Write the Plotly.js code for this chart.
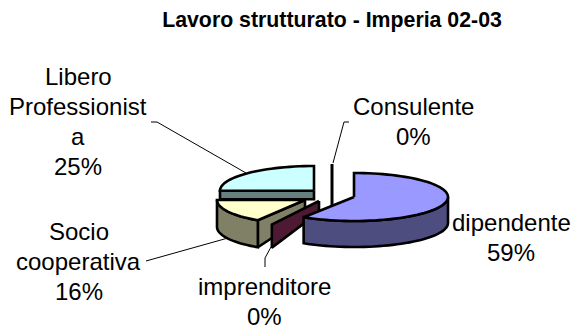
<!DOCTYPE html>
<html>
<head>
<meta charset="utf-8">
<script src="https://cdn.plot.ly/plotly-3.0.1.min.js"></script>
<style>html,body{margin:0;padding:0;background:#fff}#chart{width:574px;height:326px}</style>
</head>
<body>
<div id="chart"></div>
<script>
// Data, clockwise from 12 o'clock
var categories = ['dipendente', 'imprenditore', 'Socio cooperativa', 'Libero Professionista', 'Consulente'];
var values = [59, 0, 16, 25, 0];
var topColors = ['#9999FF', '#4D1933', '#FFFFCC', '#CCFFFF', '#000000'];
var sideColors = ['#4D4D80', '#4D1933', '#808066', '#668080', '#000000'];

var total = values.reduce(function (s, v) { return s + v; }, 0);
var starts = [], acc = 0;
values.forEach(function (v) { starts.push(acc / total * 360); acc += v; });
function ends(i) { return starts[i] + values[i] / total * 360; }

// Exploded 3-D projection of each slice (centre, radii, depth in axis units)
var geo = [
  {cx: 354, cy: 197, a: 94, b: 24, d: 26},
  {cx: 319, cy: 201, a: 88, b: 28, d: 23, dc: 11},
  {cx: 305, cy: 200, a: 88, b: 24, d: 27},
  {cx: 314, cy: 190.7, a: 94, b: 24.7, d: 8.5},
  {cx: 332, cy: 188, a: 94, b: 24, d: 18}
];
function pt(g, deg, drop) {
  var r = deg * Math.PI / 180;
  return [g.cx + g.a * Math.sin(r), g.cy - g.b * Math.cos(r) + (drop || 0)];
}
function arc(g, from, to, drop) {
  var out = [], n = Math.max(2, Math.ceil(Math.abs(to - from) / 3));
  for (var k = 0; k <= n; k++) out.push(pt(g, from + (to - from) * k / n, drop));
  return out;
}
function poly(points, fill) {
  var closed = points.concat([points[0]]);
  return {
    type: 'scatter', mode: 'lines', fill: 'toself', fillcolor: fill,
    x: closed.map(function (p) { return p[0]; }),
    y: closed.map(function (p) { return p[1]; }),
    line: {color: '#000', width: 2.6, simplify: false},
    hoverinfo: 'skip', showlegend: false
  };
}
function line(points, w) {
  return {
    type: 'scatter', mode: 'lines',
    x: points.map(function (p) { return p[0]; }),
    y: points.map(function (p) { return p[1]; }),
    line: {color: '#000', width: w}, hoverinfo: 'skip', showlegend: false
  };
}
function centre(g, drop) { return [g.cx, g.cy + (drop || 0)]; }

var traces = [];
// Libero Professionista
var gL = geo[3];
traces.push(poly([centre(gL), pt(gL, starts[3]), pt(gL, starts[3], gL.d), centre(gL, gL.d)], sideColors[3]));
traces.push(poly([centre(gL)].concat(arc(gL, starts[3], ends(3))), topColors[3]));
// Socio cooperativa
var gS = geo[2];
traces.push(poly([centre(gS), pt(gS, starts[2]), pt(gS, starts[2], gS.d), centre(gS, gS.d * 0.6)], sideColors[2]));
traces.push(poly(arc(gS, starts[2], ends(2)).concat(arc(gS, ends(2), starts[2], gS.d)), sideColors[2]));
traces.push(poly([centre(gS)].concat(arc(gS, starts[2], ends(2))), topColors[2]));
// imprenditore (zero-width slice: only its wall shows)
var gI = geo[1];
traces.push(poly([centre(gI), pt(gI, starts[1]), pt(gI, starts[1], gI.d), centre(gI, gI.dc)], sideColors[1]));
// Consulente (zero-width slice seen edge on)
var gC = geo[4];
traces.push(line([pt(gC, starts[4] % 360), centre(gC, gC.d)], 3));
// dipendente
var gD = geo[0];
traces.push(poly(arc(gD, 90, ends(0)).concat(arc(gD, ends(0), 90, gD.d)), sideColors[0]));
traces.push(poly([centre(gD)].concat(arc(gD, starts[0], ends(0))), topColors[0]));

// Leader lines
traces.push(line([[151, 122], [157, 122], [246, 173]], 1));
traces.push(line([[349, 122], [344, 122], [333, 163]], 1));
traces.push(line([[146, 261], [228, 238]], 1));
traces.push(line([[271, 247], [265, 258], [265, 267]], 1));

function pct(i) { return Math.round(values[i] / total * 100) + '%'; }
var labelLines = [
  [['dipendente', pct(0)], 511, 237],
  [['imprenditore', pct(1)], 264, 301],
  [['Socio', 'cooperativa', pct(2)], 78.5, 261],
  [['Libero', 'Professionist', 'a', pct(3)], 78, 121],
  [['Consulente', pct(4)], 413, 121]
];
var annotations = [];
labelLines.forEach(function (l) {
  var rows = l[0], first = l[2] - (rows.length - 1) * 15;
  rows.forEach(function (t, k) {
    annotations.push({
      xref: 'x', yref: 'y', x: l[1], y: first + k * 30, text: t, showarrow: false,
      xanchor: 'center', yanchor: 'middle', font: {family: 'Liberation Sans', size: 24, color: '#000'}
    });
  });
});

Plotly.newPlot('chart', traces, {
  width: 574, height: 326,
  margin: {l: 0, r: 0, t: 0, b: 0},
  paper_bgcolor: '#fff', plot_bgcolor: '#fff',
  showlegend: false,
  title: {
    text: '<b>Lavoro strutturato - Imperia 02-03</b>',
    font: {family: 'Liberation Sans', size: 21.3, color: '#000'},
    x: 332 / 574, xanchor: 'center', y: 1 - 20 / 326, yanchor: 'middle'
  },
  xaxis: {range: [0, 574], visible: false, fixedrange: true},
  yaxis: {range: [326, 0], visible: false, fixedrange: true},
  annotations: annotations
}, {displayModeBar: false, staticPlot: true});
</script>
</body>
</html>
